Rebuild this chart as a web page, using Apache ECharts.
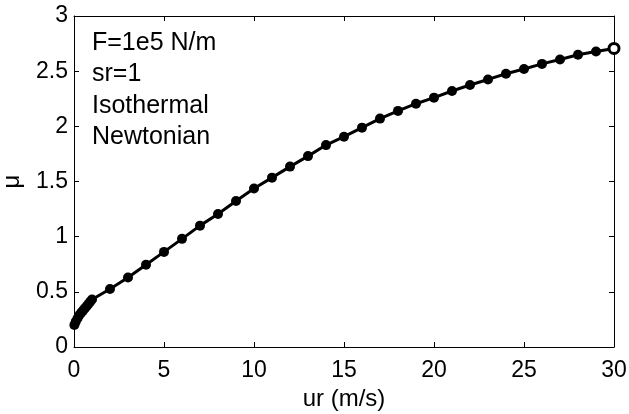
<!DOCTYPE html>
<html>
<head>
<meta charset="utf-8">
<script src="https://cdn.jsdelivr.net/npm/echarts@6/dist/echarts.min.js"></script>
<style>
html,body{margin:0;padding:0;background:#fff;}
#c{width:629px;height:414px;}
</style>
</head>
<body>
<div id="c"></div>
<script>
var ur = [0.02,0.1,0.2,0.3,0.4,0.5,0.6,0.7,0.8,0.9,1,2,3,4,5,6,7,8,9,10,11,12,13,14,15,16,17,18,19,20,21,22,23,24,25,26,27,28,29,30];
var mu = [0.20,0.23,0.26,0.29,0.31,0.33,0.35,0.37,0.39,0.41,0.43,0.525,0.63,0.745,0.862,0.98,1.10,1.205,1.324,1.436,1.535,1.635,1.73,1.83,1.906,1.988,2.07,2.14,2.205,2.26,2.32,2.375,2.425,2.477,2.52,2.566,2.606,2.649,2.678,2.706];
var xTicks = {min:0, max:30, interval:5};
var yTicks = {min:0, max:3, interval:0.5};
var xName = 'ur (m/s)';
var yName = 'μ';
var notes = ['F=1e5 N/m','sr=1','Isothermal','Newtonian'];

var FONT = 'Liberation Sans, Arial, Helvetica, sans-serif';
var chart = echarts.init(document.getElementById('c'), null, {renderer:'canvas'});
var pts = ur.map(function(x,i){
  var p = {value:[x, mu[i]]};
  if (i === ur.length-1) p.itemStyle = {color:'#fff', borderColor:'#000', borderWidth:3};
  return p;
});
var axLine = {show:true, onZero:false, lineStyle:{color:'#000', width:1}};
var axTick = {show:true, inside:true, length:5, lineStyle:{color:'#000', width:1}};
chart.setOption({
  animation:false,
  backgroundColor:'#fff',
  grid:{left:74, right:15, top:16, bottom:67, containLabel:false, outerBoundsMode:'none'},
  xAxis:[{
    type:'value', min:xTicks.min, max:xTicks.max, interval:xTicks.interval,
    position:'bottom',
    name:xName, nameLocation:'middle', nameGap:40,
    nameTextStyle:{color:'#000', fontSize:24, fontFamily:FONT},
    axisLine:axLine, axisTick:axTick, splitLine:{show:false},
    axisLabel:{color:'#000', fontSize:23, fontFamily:FONT, margin:12}
  },{
    type:'value', min:xTicks.min, max:xTicks.max, interval:xTicks.interval,
    position:'top', axisLine:axLine, axisTick:axTick, splitLine:{show:false},
    axisLabel:{show:false}
  }],
  yAxis:[{
    type:'value', min:yTicks.min, max:yTicks.max, interval:yTicks.interval,
    position:'left',
    name:yName, nameLocation:'middle', nameGap:50,
    nameTextStyle:{color:'#000', fontSize:24, fontFamily:FONT},
    axisLine:axLine, axisTick:axTick, splitLine:{show:false},
    axisLabel:{color:'#000', fontSize:23, fontFamily:FONT, margin:6}
  },{
    type:'value', min:yTicks.min, max:yTicks.max, interval:yTicks.interval,
    position:'right', axisLine:axLine, axisTick:axTick, splitLine:{show:false},
    axisLabel:{show:false}
  }],
  graphic:[{
    type:'text', left:92, top:27,
    style:{text:notes.join('\n'), fill:'#000', font:'25px ' + FONT, lineHeight:31.5}
  }],
  series:[{
    type:'line', xAxisIndex:0, yAxisIndex:0,
    data:pts,
    symbol:'circle', symbolSize:10, showAllSymbol:true,
    lineStyle:{color:'#000', width:3},
    itemStyle:{color:'#000', borderColor:'#000', borderWidth:0}
  }]
});
</script>
</body>
</html>
